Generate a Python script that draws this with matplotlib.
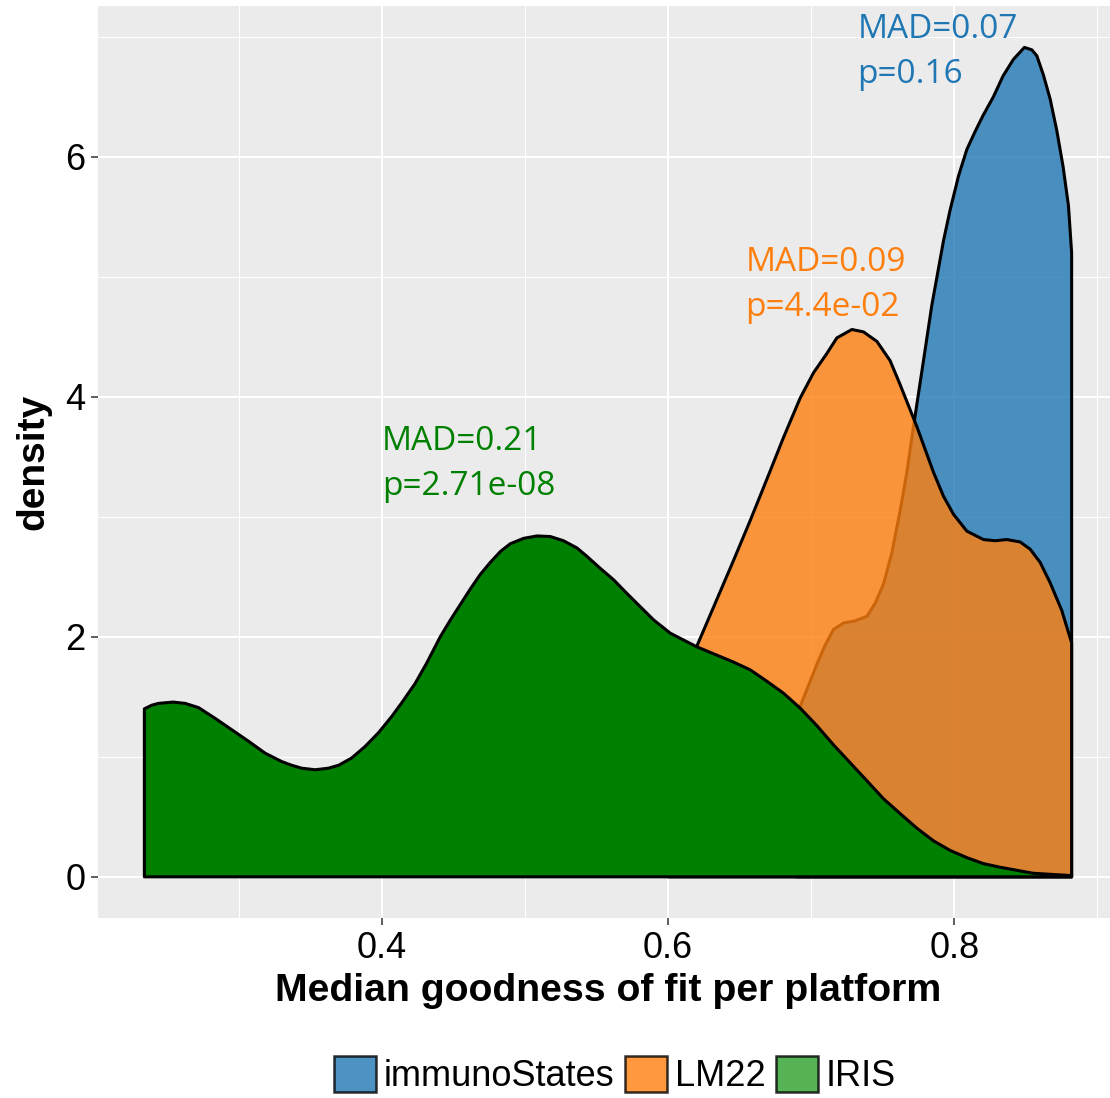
import matplotlib.pyplot as plt
from matplotlib.patches import Patch
from matplotlib.ticker import MultipleLocator

# density curves per deconvolution method (x = median goodness of fit)
iris_x = [0.2342, 0.2394, 0.2440, 0.2543, 0.2627, 0.2720, 0.2837, 0.2953, 0.3069,
          0.3186, 0.3302, 0.3370, 0.3441, 0.3535, 0.3628, 0.3700, 0.3790, 0.3884,
          0.3977, 0.4070, 0.4140, 0.4233, 0.4314, 0.4409, 0.4480, 0.4550, 0.4620,
          0.4689, 0.4759, 0.4829, 0.4898, 0.4992, 0.5085, 0.5178, 0.5270, 0.5364,
          0.5434, 0.5527, 0.5620, 0.5714, 0.5807, 0.5900, 0.6016, 0.6200, 0.6458,
          0.6574, 0.6690, 0.6807, 0.6924, 0.7040, 0.7156, 0.7273, 0.7390, 0.7506,
          0.7622, 0.7739, 0.7855, 0.7971, 0.8088, 0.8204, 0.8320, 0.8550, 0.8820]
iris_y = [1.40, 1.43, 1.445, 1.456, 1.445, 1.41, 1.32, 1.225, 1.13,
          1.03, 0.96, 0.93, 0.905, 0.892, 0.905, 0.93, 0.99, 1.086,
          1.20, 1.336, 1.45, 1.61, 1.78, 2.00, 2.14, 2.27, 2.40,
          2.52, 2.62, 2.71, 2.775, 2.82, 2.84, 2.835, 2.80, 2.74,
          2.67, 2.57, 2.475, 2.36, 2.25, 2.14, 2.03, 1.917, 1.789,
          1.725, 1.63, 1.53, 1.405, 1.26, 1.10, 0.95, 0.80, 0.65,
          0.527, 0.405, 0.30, 0.22, 0.16, 0.11, 0.08, 0.03, 0.01]

lm22_x = [0.600, 0.620, 0.6458, 0.6575, 0.669, 0.6807, 0.6924, 0.7017, 0.711,
          0.718, 0.7285, 0.7366, 0.746, 0.7552, 0.7622, 0.7739, 0.7855, 0.7925,
          0.7995, 0.8088, 0.8204, 0.8286, 0.8367, 0.846, 0.853, 0.860, 0.867,
          0.8751, 0.882]
lm22_y = [1.50, 1.917, 2.636, 2.97, 3.31, 3.66, 3.99, 4.20, 4.36,
          4.49, 4.56, 4.54, 4.46, 4.30, 4.10, 3.75, 3.37, 3.17,
          3.02, 2.88, 2.81, 2.80, 2.81, 2.79, 2.73, 2.62, 2.45,
          2.22, 1.95]

immuno_x = [0.690, 0.704, 0.7098, 0.7156, 0.7226, 0.730, 0.739, 0.7448, 0.7506,
            0.7564, 0.7622, 0.7669, 0.7715, 0.7785, 0.7843, 0.7925, 0.797, 0.803,
            0.8088, 0.8146, 0.820, 0.8274, 0.834, 0.8413, 0.849, 0.8542, 0.8577,
            0.8623, 0.867, 0.8716, 0.876, 0.8798, 0.882]
immuno_y = [1.35, 1.77, 1.93, 2.06, 2.115, 2.13, 2.17, 2.28, 2.44,
            2.70, 3.05, 3.37, 3.75, 4.30, 4.76, 5.30, 5.55, 5.84,
            6.06, 6.21, 6.34, 6.50, 6.67, 6.81, 6.91, 6.89, 6.84,
            6.68, 6.48, 6.22, 5.92, 5.59, 5.20]

methods = ["immunoStates", "LM22", "IRIS"]
mad_text = ["MAD=0.07", "MAD=0.09", "MAD=0.21"]
p_text = ["p=0.16", "p=4.4e-02", "p=2.71e-08"]

blue, orange, green = "#1f77b4", "#ff7f0e", "#008000"

fig = plt.figure(figsize=(11.1, 10.98), dpi=100)
ax = fig.add_axes([98 / 1110, 1 - 918.3 / 1098, 1020 / 1110, 912.3 / 1098])
ax.set_facecolor("#EBEBEB")
for s in ax.spines.values():
    s.set_visible(False)


def density(x, y, color, alpha):
    xs = [x[0]] + list(x) + [x[-1]]
    ys = [0] + list(y) + [0]
    ax.fill(xs, ys, facecolor=color, alpha=alpha, edgecolor="none", zorder=2)
    ax.fill(xs, ys, facecolor="none", edgecolor="black", lw=2.2, zorder=2,
            joinstyle="round")


density(immuno_x, immuno_y, blue, 0.8)
density(lm22_x, lm22_y, orange, 0.8)
density(iris_x, iris_y, green, 1.0)

ax.set_xlim(0.2018, 0.9144)
ax.set_ylim(-0.3455, 7.255)
ax.xaxis.set_minor_locator(MultipleLocator(0.1))
ax.yaxis.set_major_locator(MultipleLocator(2))
ax.yaxis.set_minor_locator(MultipleLocator(1))
ax.set_xticks([0.4, 0.6, 0.8])
ax.set_xticklabels(["0.4", "0.6", "0.8"])
ax.grid(which="major", color="white", lw=1.5, zorder=0)
ax.grid(which="minor", color="white", lw=0.75, zorder=0)
ax.set_axisbelow(True)
ax.tick_params(which="major", length=5, width=1.1, color="#333333",
               labelsize=26, pad=4, labelfontfamily="Liberation Sans")
ax.tick_params(which="minor", length=0)

ax.set_xlabel("Median goodness of fit per platform", fontsize=28.3,
              fontweight="bold", family="Liberation Sans", labelpad=5)
ax.set_ylabel("density", fontsize=28, fontweight="bold",
              family="Liberation Sans", labelpad=10)

# MAD / p-value annotations
ann_x = [0.7324, 0.6541, 0.400]
ann_y = [7.06, 5.12, 3.625]
for xx, yy, m, p, c in zip(ann_x, ann_y, mad_text, p_text, [blue, orange, green]):
    ax.text(xx, yy, m, color=c, fontsize=24, family="Open Sans", va="center")
    ax.text(xx, yy - 0.375, p, color=c, fontsize=24, family="Open Sans",
            va="center")

handles = [Patch(facecolor=blue, alpha=0.8, edgecolor="black", lw=1.8),
           Patch(facecolor=orange, alpha=0.8, edgecolor="black", lw=1.8),
           Patch(facecolor="#2ca02c", alpha=0.8, edgecolor="black", lw=1.8)]
fig.legend(handles, methods, loc="center", bbox_to_anchor=(615 / 1110, 1 - 1075 / 1098),
           ncol=3, frameon=False, prop={"family": "Liberation Sans", "size": 26},
           handlelength=1.17, handleheight=1.17, handletextpad=0.2,
           columnspacing=0.3, borderpad=0)

fig.savefig("out.png", dpi=100)
